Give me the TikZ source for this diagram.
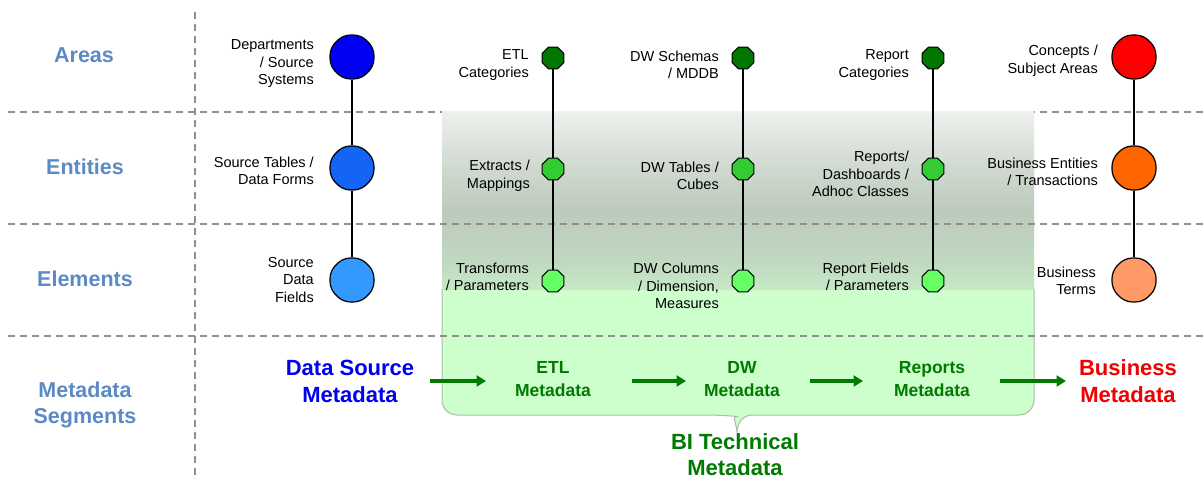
\documentclass[tikz,border=0pt]{standalone}
\usepackage{fontspec}
\setmainfont{Liberation Sans}
\usetikzlibrary{shapes.geometric,arrows.meta}

\definecolor{rowblue}{HTML}{5B8AC5}
\definecolor{gridgrey}{HTML}{8F8F8F}
\definecolor{srcA}{HTML}{0000F5}
\definecolor{srcB}{HTML}{1464F5}
\definecolor{srcC}{HTML}{3399FF}
\definecolor{grnA}{HTML}{007700}
\definecolor{grnB}{HTML}{33CC33}
\definecolor{grnC}{HTML}{66FF66}
\definecolor{bizA}{HTML}{FF0000}
\definecolor{bizB}{HTML}{FF6600}
\definecolor{bizC}{HTML}{FF9966}
\definecolor{dsblue}{HTML}{0000EE}
\definecolor{segred}{HTML}{F00000}
\definecolor{segreen}{HTML}{007A00}
\definecolor{techfill}{HTML}{CCFFCC}
\definecolor{techedge}{HTML}{A9BCA9}
\definecolor{fadeB}{HTML}{C6E8C6}
\definecolor{fadeL}{HTML}{C0D8C0}
\definecolor{fadeM}{HTML}{BCCABC}
\definecolor{fadeU}{HTML}{D8DFD8}
\definecolor{fadeT}{HTML}{EEF1EE}

% grey-green fade over the upper part of the BI technical panel
\pgfdeclareverticalshading{techfade}{100bp}{%
  color(0bp)=(fadeB); color(25bp)=(fadeB); color(33bp)=(fadeL);
  color(47bp)=(fadeM); color(64bp)=(fadeU); color(75bp)=(fadeT);
  color(100bp)=(fadeT)}

\begin{document}
\begin{tikzpicture}[x=1pt,y=-1pt,
  grid/.style={draw=gridgrey, line width=1.8pt, dash pattern=on 7pt off 5pt},
  bignode/.style={regular polygon, regular polygon sides=8, minimum size=47.5pt,
    rounded corners=7pt, draw=black, line width=1.2pt, inner sep=0pt},
  smallnode/.style={regular polygon, regular polygon sides=8, minimum size=23.5pt,
    draw=black, line width=1.1pt, inner sep=0pt},
  stem/.style={draw=black, line width=1.4pt},
  lbl/.style={anchor=east, align=right, inner sep=0pt,
    font=\fontsize{14.5}{17.5}\selectfont},
  rowlbl/.style={align=center, inner sep=0pt, text=rowblue,
    font=\bfseries\fontsize{21.5}{26}\selectfont},
  seglbl/.style={align=center, inner sep=0pt,
    font=\bfseries\fontsize{22}{27}\selectfont},
  techlbl/.style={align=center, inner sep=0pt, text=segreen,
    font=\bfseries\fontsize{17.5}{23}\selectfont},
  flow/.style={draw=segreen, line width=3.4pt,
    -{Triangle[length=9.5pt,width=11pt]}}
]
\useasboundingbox (0,0) rectangle (1204,481);

% top row divider (hidden under the panel)
\draw[grid] (8,112) -- (1204,112);

% BI technical metadata panel with its callout tip
\path[fill=techfill, rounded corners=15pt]
  (442,112) -- (442,415) -- (722,415) [sharp corners]
  .. controls (732,416) and (736,422) .. (737,432)
  .. controls (738,422) and (742,416) .. (752,415) [rounded corners=15pt]
  -- (1034,415) -- (1034,112) [sharp corners] -- cycle;
\begin{scope}
  \clip (442,112) rectangle (1034,289);
  \shade[shading=techfade] (442,112) rectangle (1034,289);
\end{scope}
\draw[techedge, line width=1pt, rounded corners=15pt]
  (442,289) -- (442,415) -- (722,415) [sharp corners]
  .. controls (732,416) and (736,422) .. (737,432)
  .. controls (738,422) and (742,416) .. (752,415) [rounded corners=15pt]
  -- (1034,415) -- (1034,289);

% remaining dividers
\draw[grid] (8,224) -- (1204,224);
\draw[grid] (8,336) -- (1204,336);
\draw[grid] (195,12) -- (195,476);

% row headings
\node[rowlbl] (hAreas) at (84,55) {Areas};
\node[rowlbl] (hEnt) at (85,167) {Entities};
\node[rowlbl] (hElem) at (85,279) {Elements};
\node[rowlbl] (hSeg) at (85,405) {Metadata\\Segments};

% source systems column
\node[bignode, fill=srcA] (src1) at (352,57) {};
\node[bignode, fill=srcB] (src2) at (352,168) {};
\node[bignode, fill=srcC] (src3) at (352,280) {};
% ETL column
\node[smallnode, fill=grnA] (etl1) at (553,58) {};
\node[smallnode, fill=grnB] (etl2) at (553,169) {};
\node[smallnode, fill=grnC] (etl3) at (553,281) {};
% DW column
\node[smallnode, fill=grnA] (dw1) at (743,58) {};
\node[smallnode, fill=grnB] (dw2) at (743,169) {};
\node[smallnode, fill=grnC] (dw3) at (743,281) {};
% reports column
\node[smallnode, fill=grnA] (rep1) at (933,58) {};
\node[smallnode, fill=grnB] (rep2) at (933,169) {};
\node[smallnode, fill=grnC] (rep3) at (933,281) {};
% business column
\node[bignode, fill=bizA] (biz1) at (1134,57) {};
\node[bignode, fill=bizB] (biz2) at (1134,168) {};
\node[bignode, fill=bizC] (biz3) at (1134,280) {};

\draw[stem] (src1) -- (src2) -- (src3);
\draw[stem] (etl1) -- (etl2) -- (etl3);
\draw[stem] (dw1) -- (dw2) -- (dw3);
\draw[stem] (rep1) -- (rep2) -- (rep3);
\draw[stem] (biz1) -- (biz2) -- (biz3);

% item labels
\node[lbl] (lsrc1) at (314,64) {Departments\\/ Source\\Systems};
\node[lbl] (lsrc2) at (314,171) {Source Tables /\\Data Forms};
\node[lbl] (lsrc3) at (314,280) {Source\\Data\\Fields};
\node[lbl] (letl1) at (529,65) {ETL\\Categories};
\node[lbl] (letl2) at (530,176) {Extracts /\\Mappings};
\node[lbl] (letl3) at (529,277) {Transforms\\/ Parameters};
\node[lbl] (ldw1) at (719,65) {DW Schemas\\/ MDDB};
\node[lbl] (ldw2) at (719,176) {DW Tables /\\Cubes};
\node[lbl] (ldw3) at (719,286) {DW Columns\\/ Dimension,\\Measures};
\node[lbl] (lrep1) at (909,65) {Report\\Categories};
\node[lbl] (lrep2) at (909,174) {Reports/\\Dashboards /\\Adhoc Classes};
\node[lbl] (lrep3) at (909,277) {Report Fields\\/ Parameters};
\node[lbl] (lbiz1) at (1098,61) {Concepts /\\Subject Areas};
\node[lbl] (lbiz2) at (1098,172) {Business Entities\\/ Transactions};
\node[lbl] (lbiz3) at (1096,281) {Business\\Terms};

% metadata segments
\node[seglbl, text=dsblue] (ds) at (350,381) {Data Source\\Metadata};
\node[techlbl] (etlm) at (553,379) {ETL\\Metadata};
\node[techlbl] (dwm) at (742,379) {DW\\Metadata};
\node[techlbl] (repm) at (932,379) {Reports\\Metadata};
\node[seglbl, text=segred] (bizm) at (1128,381) {Business\\Metadata};
\node[seglbl, text=segreen, font=\bfseries\fontsize{22}{26}\selectfont]
  (bitech) at (735,455) {BI Technical\\Metadata};

\draw[flow, shorten <=80pt, shorten >=67pt] (ds.center) -- (etlm.center |- ds.center);
\draw[flow, shorten <=79pt, shorten >=56pt] (etlm.center |- ds.center) -- (dwm.center |- ds.center);
\draw[flow, shorten <=68pt, shorten >=69pt] (dwm.center |- ds.center) -- (repm.center |- ds.center);
\draw[flow, shorten <=68pt, shorten >=62pt] (repm.center |- ds.center) -- (bizm.center);
\end{tikzpicture}
\end{document}
